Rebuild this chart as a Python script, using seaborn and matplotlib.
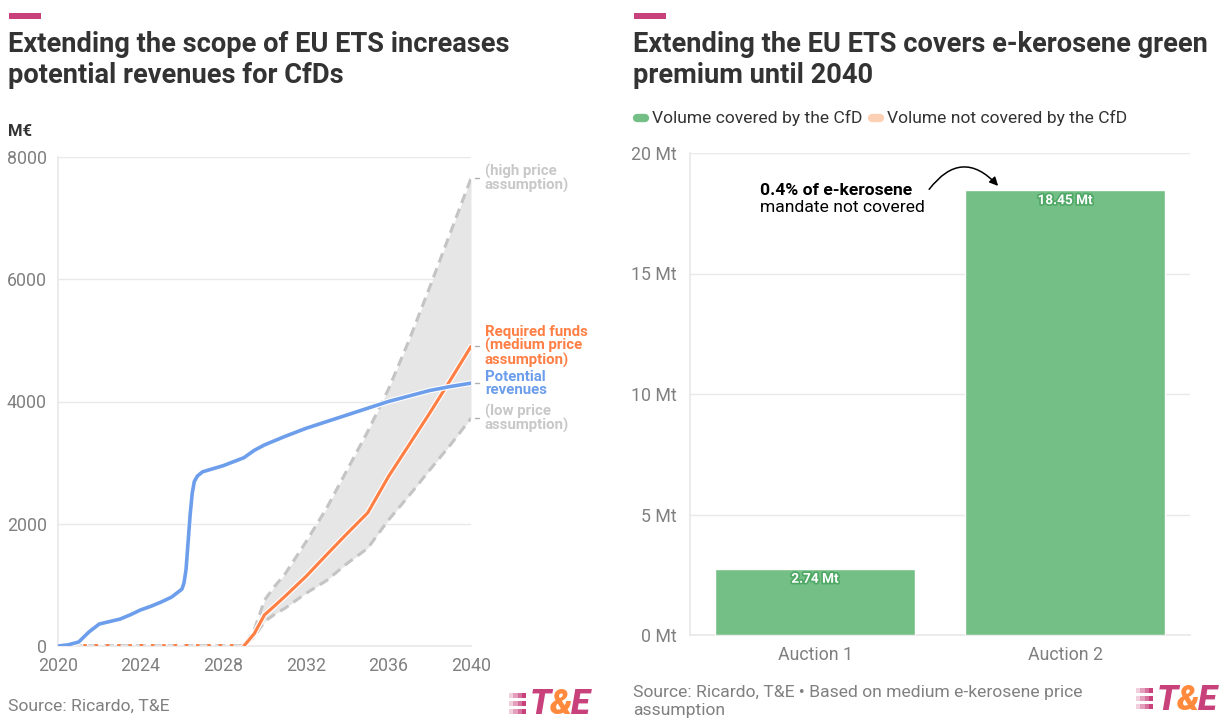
import matplotlib
matplotlib.use("Agg")
import matplotlib.pyplot as plt
import matplotlib.patheffects as pe
from matplotlib.lines import Line2D
from matplotlib.patches import FancyArrowPatch, Rectangle
import numpy as np
import pandas as pd
import seaborn as sns

sns.set_theme(style="white")
plt.rcParams['font.family'] = ['Roboto', 'DejaVu Sans']

# ---------------- data: potential revenues vs required funds (M€) ----------------
rev_years = [2020, 2020.5, 2021, 2021.5, 2022, 2022.5, 2023, 2023.5, 2024, 2024.5,
             2025, 2025.5, 2026, 2026.1, 2026.2, 2026.3, 2026.4, 2026.5, 2026.6,
             2026.75, 2027, 2028, 2029, 2029.5, 2030, 2031, 2032, 2033, 2034,
             2035, 2036, 2037, 2038, 2039, 2040]
revenues = [0, 20, 65, 230, 360, 400, 440, 510, 590, 650,
            720, 800, 930, 1030, 1250, 1700, 2150, 2500, 2690,
            2780, 2850, 2950, 3080, 3200, 3290, 3430, 3560, 3670, 3780,
            3890, 4000, 4090, 4180, 4245, 4300]

scen_years = [2020.7, 2029, 2029.5, 2030, 2030.5, 2031, 2032, 2033, 2034, 2035,
              2036, 2037, 2038, 2039, 2040]
funds_low = [0, 0, 150, 400, 520, 620, 860, 1070, 1350, 1600,
             2060, 2460, 2880, 3290, 3725]
funds_medium = [0, 0, 200, 510, 660, 815, 1135, 1490, 1840, 2180,
                2770, 3290, 3810, 4350, 4900]
funds_high = [0, 0, 260, 750, 980, 1180, 1700, 2250, 2880, 3510,
              4200, 5000, 5870, 6760, 7650]
auction_start = 2029

# ---------------- data: e-kerosene volumes (Mt) ----------------
auctions = ["Auction 1", "Auction 2"]
covered = [2.74, 18.45]
not_covered = [0.0, 0.07]

# ---------------- styling ----------------
BLUE = "#6d9eeb"
ORANGE = "#ff7f45"
GREY_LINE = "#c4c4c4"
GREY_FILL = "#e6e6e6"
GRID = "#e9e9e9"
TICK = "#808080"
DARK = "#333333"
GREEN = "#74bf86"
PEACH = "#fcd0b4"
PINK = "#c8417b"
LOGO_ORANGE = "#ff8a3d"

W, H = 1229, 720
fig = plt.figure(figsize=(W / 100, H / 100), dpi=100)


def fx(px):
    return px / W


def fy(py):
    return 1 - py / H


# ---------------- left panel ----------------
ax1 = fig.add_axes([fx(58), fy(646), fx(413), 489 / H])

scen = pd.DataFrame({"year": scen_years, "low": funds_low,
                     "medium": funds_medium, "high": funds_high})
after = scen[scen["year"] >= auction_start]
before = scen[scen["year"] <= auction_start]

ax1.fill_between(after["year"], after["low"], after["high"],
                 color=GREY_FILL, lw=0, zorder=1)
for col in ["low", "high"]:
    sns.lineplot(data=scen, x="year", y=col, ax=ax1, color=GREY_LINE,
                 lw=2.2, linestyle=(0, (3.2, 2.0)), sort=False, zorder=2)
sns.lineplot(data=before, x="year", y="medium", ax=ax1, color=ORANGE,
             lw=2.8, linestyle=(0, (0.9, 2.0)), sort=False, zorder=3)
sns.lineplot(data=after, x="year", y="medium", ax=ax1, color=ORANGE,
             lw=2.3, sort=False, zorder=4,
             path_effects=[pe.Stroke(linewidth=4, foreground="white"), pe.Normal()])
rev = pd.DataFrame({"year": rev_years, "revenues": revenues})
sns.lineplot(data=rev, x="year", y="revenues", ax=ax1, color=BLUE,
             lw=2.6, sort=False, zorder=5,
             path_effects=[pe.Stroke(linewidth=4.2, foreground="white"), pe.Normal()])

ax1.set_xlim(2020, 2040)
ax1.set_ylim(0, 8000)
ax1.set_yticks([0, 2000, 4000, 6000, 8000])
ax1.set_xticks(range(2020, 2041, 4))
ax1.set_xticks(range(2020, 2041, 2), minor=True)
ax1.set_xlabel("")
ax1.set_ylabel("")
ax1.yaxis.grid(True, color=GRID, lw=1)
ax1.set_axisbelow(True)
for s in ["top", "right"]:
    ax1.spines[s].set_visible(False)
ax1.spines["left"].set_color(GRID)
ax1.spines["bottom"].set_color(GRID)
ax1.tick_params(axis="both", which="both", colors=GRID, labelcolor=TICK,
                labelsize=12.8, length=6, width=1)
ax1.tick_params(axis="x", which="both", direction="out", pad=2)
ax1.tick_params(axis="y", pad=2)

# end labels
end_labels = [
    (funds_high[-1], "(high price\nassumption)", "#c8c8c8"),
    (funds_medium[-1], "Required funds\n(medium price\nassumption)", ORANGE),
    (revenues[-1], "Potential\nrevenues", BLUE),
    (funds_low[-1], "(low price\nassumption)", "#c8c8c8"),
]
for val, txt, col in end_labels:
    ax1.annotate(txt, xy=(2040, val), xytext=(10, 0), textcoords="offset points",
                 ha="left", va="center", fontsize=10.8, fontweight="bold",
                 color=col, linespacing=0.92, annotation_clip=False)
    ax1.plot([2040.2, 2040.4], [val, val], color="#b0b0b0", lw=1,
             clip_on=False, zorder=6)

# ---------------- right panel ----------------
ax2 = fig.add_axes([fx(690), fy(635), fx(500), 482 / H])
vol = pd.DataFrame({"auction": auctions, "covered": covered,
                    "not_covered": not_covered})
vol["total"] = vol["covered"] + vol["not_covered"]
sns.barplot(data=vol, x="auction", y="total", ax=ax2, color=PEACH,
            saturation=1, width=0.8, zorder=2)
sns.barplot(data=vol, x="auction", y="covered", ax=ax2, color=GREEN,
            saturation=1, width=0.8, zorder=3)
ax2.set_xlim(-0.5, 1.5)
ax2.set_ylim(0, 20)
ax2.set_yticks([0, 5, 10, 15, 20])
ax2.set_yticklabels([f"{v} Mt" for v in [0, 5, 10, 15, 20]])
ax2.set_xlabel("")
ax2.set_ylabel("")
ax2.yaxis.grid(True, color=GRID, lw=1)
ax2.set_axisbelow(True)
for s in ["top", "right"]:
    ax2.spines[s].set_visible(False)
ax2.spines["left"].set_color(GRID)
ax2.spines["bottom"].set_color(GRID)
ax2.tick_params(axis="both", colors=GRID, labelcolor=TICK, labelsize=12.8,
                length=6, width=1)
ax2.tick_params(axis="x", pad=2)

for i, v in enumerate(covered):
    ax2.annotate(f"{v:.2f} Mt", xy=(i, v), xytext=(0, -2),
                 textcoords="offset points", ha="center", va="top",
                 fontsize=9.8, fontweight="bold", color="white",
                 path_effects=[pe.withStroke(linewidth=2.5, foreground="#4fa866")],
                 zorder=6)

# annotation for uncovered share
ax2.text(-0.22, 18.46, "0.4% of e-kerosene", ha="left", va="center",
         fontsize=12.6, fontweight="bold", color="black")
ax2.text(-0.22, 17.72, "mandate not covered", ha="left", va="center",
         fontsize=12.6, color="black")
arrow = FancyArrowPatch((0.45, 18.4), (0.74, 18.55),
                        connectionstyle="arc3,rad=-0.62",
                        arrowstyle="-|>,head_length=5,head_width=2.5",
                        color="black", lw=1.1, zorder=7)
ax2.add_patch(arrow)

# legend
for x0, col, label in [(637, GREEN, "Volume covered by the CfD"),
                       (872, PEACH, "Volume not covered by the CfD")]:
    fig.add_artist(Line2D([fx(x0), fx(x0 + 8)], [fy(118), fy(118)],
                          transform=fig.transFigure, color=col, lw=6,
                          solid_capstyle="round"))
    fig.text(fx(x0 + 15), fy(118), label, ha="left", va="center",
             fontsize=12.6, color=DARK)

# ---------------- titles, sources, marks ----------------
for x0, title in [(8, "Extending the scope of EU ETS increases\npotential revenues for CfDs"),
                  (633, "Extending the EU ETS covers e-kerosene green\npremium until 2040")]:
    fig.add_artist(Rectangle((fx(x0 + 1), fy(19)), fx(32), 6 / H,
                             transform=fig.transFigure, color=PINK, lw=0))
    fig.text(fx(x0), fy(31), title, ha="left", va="top", fontsize=19.6,
             fontweight="bold", color=DARK, linespacing=1.17)

fig.text(fx(8), fy(131), "M€", ha="left", va="center", fontsize=12,
         fontweight="bold", color=DARK)

fig.text(fx(8), fy(706), "Source: Ricardo, T&E", ha="left", va="center",
         fontsize=12.6, color=TICK)
fig.text(fx(633), fy(702), "Source: Ricardo, T&E • Based on medium e-kerosene price\nassumption",
         ha="left", va="center", fontsize=12.6, color=TICK, linespacing=1.25)

renderer = fig.canvas.get_renderer()


def logo(x0, y0):
    # three fading stripes followed by the wordmark
    for k in range(3):
        for j in range(4):
            fig.add_artist(Rectangle((fx(x0 + j * 4.3), fy(y0 - 7 + k * 8)),
                                     fx(4.3), 5 / H, transform=fig.transFigure,
                                     color=PINK, alpha=0.25 + 0.25 * j, lw=0))
    x = x0 + 21
    for ch, col in [("T", PINK), ("&", LOGO_ORANGE), ("E", PINK)]:
        t = fig.text(fx(x), fy(y0), ch, ha="left", va="center", fontsize=25,
                     fontweight="heavy", style="italic", color=col)
        bb = t.get_window_extent(renderer)
        x += bb.width - 1.5


logo(509, 705)
logo(1136, 700)

fig.savefig("out.png", dpi=100, facecolor="white")
